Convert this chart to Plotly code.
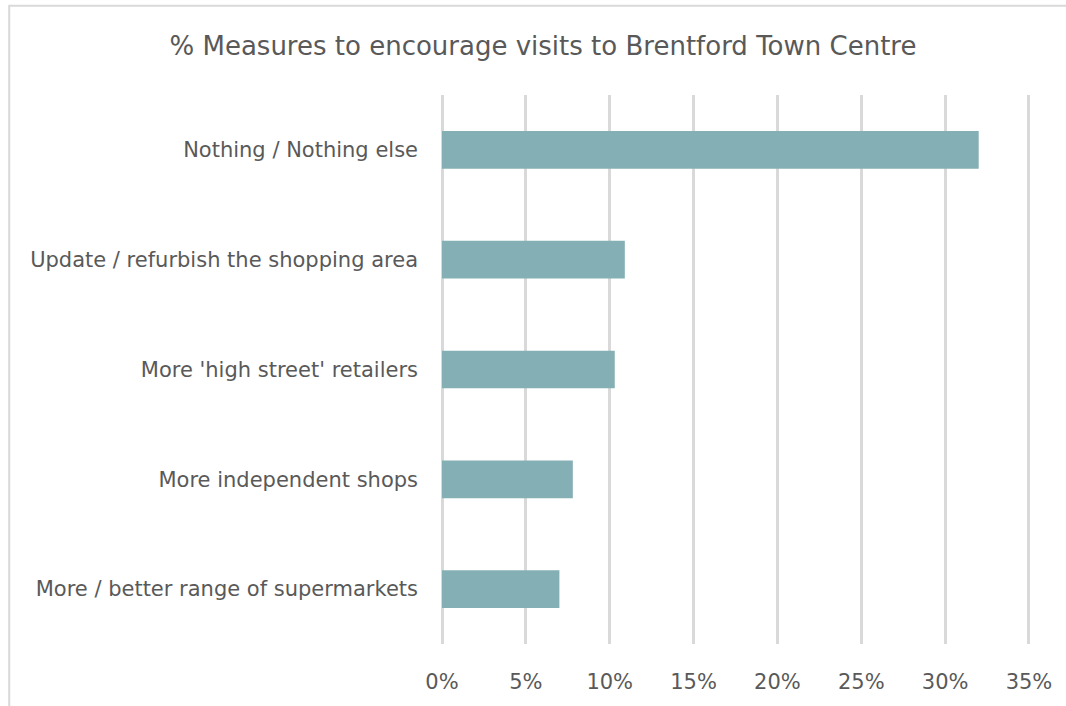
import plotly.graph_objects as go

# Survey responses (share of respondents)
measures = [
    "Nothing / Nothing else",
    "Update / refurbish the shopping area",
    "More 'high street' retailers",
    "More independent shops",
    "More / better range of supermarkets",
]
shares = [0.32, 0.109, 0.103, 0.078, 0.070]

tick_vals = [0, 0.05, 0.10, 0.15, 0.20, 0.25, 0.30, 0.35]
tick_text = ["0%", "5%", "10%", "15%", "20%", "25%", "30%", "35%"]

W, H = 1066, 706
L, R, T, B = 440.5, 35.5, 95, 58
pw, ph = W - L - R, H - T - B

fig = go.Figure(
    go.Bar(
        x=shares,
        y=measures,
        orientation="h",
        marker=dict(color="#84AFB4", line=dict(width=0)),
        width=0.343,
    )
)

# light outer frame of the chart area
def px_x(p):
    return (p - L) / pw

def px_y(p):
    return (H - B - p) / ph

fig.add_shape(
    type="rect", xref="paper", yref="paper",
    x0=px_x(8), x1=px_x(1075), y0=px_y(715), y1=px_y(5),
    line=dict(color="#d9d9d9", width=2), fillcolor="rgba(0,0,0,0)", layer="below",
)

fig.update_layout(
    width=W, height=H,
    margin=dict(l=L, r=R, t=T, b=B),
    paper_bgcolor="white", plot_bgcolor="white",
    font=dict(family="DejaVu Sans", color="#595959", size=21),
    title=dict(
        text="% Measures to encourage visits to Brentford Town Centre",
        x=543 / W, xanchor="center", y=1 - 46 / H, yanchor="middle",
        font=dict(size=26, color="#595959"),
    ),
    showlegend=False,
    xaxis=dict(
        range=[-0.0006, 0.3506], tickvals=tick_vals, ticktext=tick_text,
        showgrid=True, gridcolor="#d9d9d9", gridwidth=2.5,
        zeroline=False, showline=False, ticks="", ticklabelstandoff=23,
        tickfont=dict(size=21, color="#595959"), fixedrange=True,
    ),
    yaxis=dict(
        categoryorder="array", categoryarray=measures[::-1],
        showgrid=False, zeroline=False, showline=False, ticks="",
        ticklabelstandoff=22, tickfont=dict(size=21, color="#595959"),
        fixedrange=True,
    ),
)

fig.write_html("out.html")
